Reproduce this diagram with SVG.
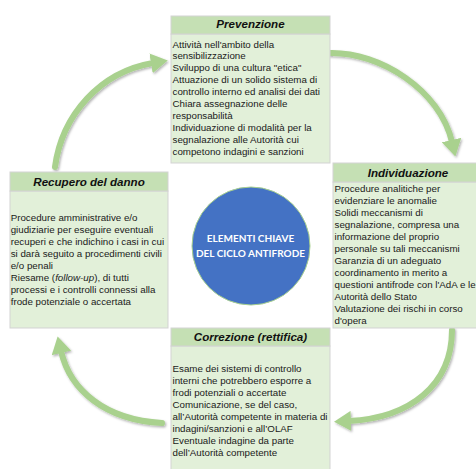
<svg xmlns="http://www.w3.org/2000/svg" width="476" height="469" viewBox="0 0 476 469">
<style>
.hdr{fill:#C5E0B4;stroke:#D3D3D3;stroke-width:1}
.body{fill:#E2F0D9;stroke:#D3D3D3;stroke-width:1}
.ht{font-family:"Liberation Sans",Arial,sans-serif;font-size:11.6px;font-weight:bold;font-style:italic;fill:#111;text-anchor:middle}
.bt{font-family:"Liberation Sans",Arial,sans-serif;font-size:9.75px;fill:#1a1a1a}
.ct{font-family:Lato,"Liberation Sans",sans-serif;font-size:10px;font-weight:bold;fill:#fff;text-anchor:middle}
.arr{fill:none;stroke:#A9D18E;stroke-width:6;stroke-linecap:round;marker-end:url(#head);filter:url(#sh)}
</style>
<defs>
<filter id="sh" x="-20%" y="-20%" width="140%" height="140%">
<feDropShadow dx="1.2" dy="1.5" stdDeviation="1" flood-color="#000" flood-opacity="0.3"/>
</filter>
<marker id="head" viewBox="0 0 17 20" markerWidth="17" markerHeight="20" refX="2" refY="10" orient="auto" markerUnits="userSpaceOnUse">
<path d="M0,0 L17,10 L0,20 Z" fill="#A9D18E"/>
</marker>
</defs>
<rect width="476" height="469" fill="#fff"/>
<g id="connectors">
<path class="arr" d="M55,167 C62,115 100,72 153,63"/>
<path class="arr" d="M330,53 C380,52 440,90 452,142"/>
<path class="arr" d="M452,330 C452,385 410,418 349,421"/>
<path class="arr" d="M162,423 C105,420 70,390 61,351"/>
</g>
<g id="prevenzione">
<rect class="body" x="171" y="34" width="159" height="129"/>
<rect class="hdr" x="171" y="16" width="159" height="18"/>
<text class="ht" x="250.5" y="28">Prevenzione</text>
<text class="bt" x="172.5" y="47.8">Attività nell'ambito della</text>
<text class="bt" x="172.5" y="59.2">sensibilizzazione</text>
<text class="bt" x="172.5" y="71.2">Sviluppo di una cultura "etica"</text>
<text class="bt" x="172.5" y="83.2">Attuazione di un solido sistema di</text>
<text class="bt" x="172.5" y="95.2">controllo interno ed analisi dei dati</text>
<text class="bt" x="172.5" y="107.2">Chiara assegnazione delle</text>
<text class="bt" x="172.5" y="119.2">responsabilità</text>
<text class="bt" x="172.5" y="131.2">Individuazione di modalità per la</text>
<text class="bt" x="172.5" y="143.2">segnalazione alle Autorità cui</text>
<text class="bt" x="172.5" y="155.2">competono indagini e sanzioni</text>
</g>
<g id="individuazione">
<rect class="body" x="333" y="182" width="150" height="146"/>
<rect class="hdr" x="333" y="163" width="150" height="19"/>
<text class="ht" x="408" y="176.5">Individuazione</text>
<text class="bt" x="334.5" y="192.2">Procedure analitiche per</text>
<text class="bt" x="334.5" y="203.8">evidenziare le anomalie</text>
<text class="bt" x="334.5" y="215.8">Solidi meccanismi di</text>
<text class="bt" x="334.5" y="227.8">segnalazione, compresa una</text>
<text class="bt" x="334.5" y="239.8">informazione del proprio</text>
<text class="bt" x="334.5" y="251.8">personale su tali meccanismi</text>
<text class="bt" x="334.5" y="263.8">Garanzia di un adeguato</text>
<text class="bt" x="334.5" y="275.8">coordinamento in merito a</text>
<text class="bt" x="334.5" y="287.8">questioni antifrode con l'AdA e le</text>
<text class="bt" x="334.5" y="299.8">Autorità dello Stato</text>
<text class="bt" x="334.5" y="311.8">Valutazione dei rischi in corso</text>
<text class="bt" x="334.5" y="323.8">d'opera</text>
</g>
<g id="recupero">
<rect class="body" x="10" y="191" width="158" height="137"/>
<rect class="hdr" x="10" y="172" width="158" height="19"/>
<text class="ht" x="89" y="185.5">Recupero del danno</text>
<text class="bt" x="10.7" y="220.8">Procedure amministrative e/o</text>
<text class="bt" x="10.7" y="232.8">giudiziarie per eseguire eventuali</text>
<text class="bt" x="10.7" y="244.8">recuperi e che indichino i casi in cui</text>
<text class="bt" x="10.7" y="256.8">si darà seguito a procedimenti civili</text>
<text class="bt" x="10.7" y="268.8">e/o penali</text>
<text class="bt" x="10.7" y="280.8">Riesame (<tspan font-style="italic">follow-up</tspan>), di tutti</text>
<text class="bt" x="10.7" y="292.8">processi e i controlli connessi alla</text>
<text class="bt" x="10.7" y="304.8">frode potenziale o accertata</text>
</g>
<g id="correzione">
<rect class="body" x="171" y="346" width="159" height="130"/>
<rect class="hdr" x="171" y="328" width="159" height="18"/>
<text class="ht" x="250.5" y="341">Correzione (rettifica)</text>
<text class="bt" x="172.5" y="371.8">Esame dei sistemi di controllo</text>
<text class="bt" x="172.5" y="383.8">interni che potrebbero esporre a</text>
<text class="bt" x="172.5" y="395.8">frodi potenziali o accertate</text>
<text class="bt" x="172.5" y="407.8">Comunicazione, se del caso,</text>
<text class="bt" x="172.5" y="419.8">all’Autorità competente in materia di</text>
<text class="bt" x="172.5" y="431.8">indagini/sanzioni e all’OLAF</text>
<text class="bt" x="172.5" y="443.8">Eventuale indagine da parte</text>
<text class="bt" x="172.5" y="455.8">dell’Autorità competente</text>
</g>
<g id="centro">
<circle cx="251" cy="246" r="59" fill="#4472C4" stroke="#A9D18E" stroke-width="1"/>
<text class="ct" x="250.5" y="241.8">ELEMENTI CHIAVE</text>
<text class="ct" x="250.5" y="256.8">DEL CICLO ANTIFRODE</text>
</g>
</svg>
